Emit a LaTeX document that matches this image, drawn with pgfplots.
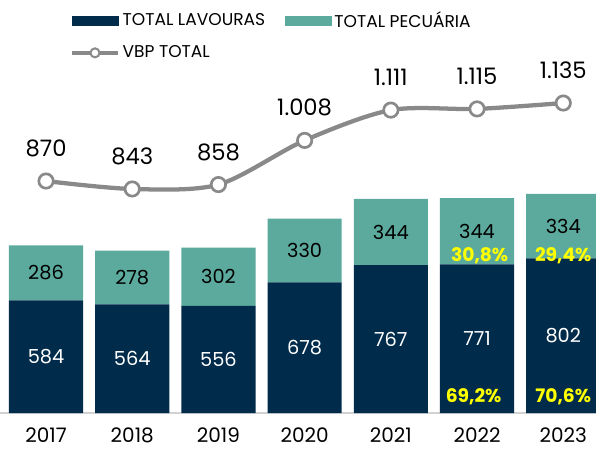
\documentclass[border=0pt]{standalone}
\usepackage{pgfplots}
\pgfplotsset{compat=1.18}
\usepackage{fontspec}
\setmainfont{Poppins}
\definecolor{navy}{RGB}{0,43,74}
\definecolor{tealp}{RGB}{91,170,157}
\definecolor{lgrey}{RGB}{137,137,137}
\definecolor{pyellow}{RGB}{255,255,0}

\pgfplotstableread{
x lav pec
0 584 286
1 564 278
2 556 302
3 678 330
4 767 344
5 771 344
6 802 334
}\bars

\pgfplotsset{
  base/.style={at={(0,0)},anchor=south west,scale only axis,
    width=447pt,height=309.75pt,xmin=-0.534,xmax=6.38},
}

\begin{document}
\begin{tikzpicture}
% bars
\begin{axis}[base,ymin=0,ymax=2142,ybar stacked,bar width=0.86,
  axis y line=none,axis x line*=bottom,
  x axis line style={draw=gray!35,line width=1.2pt,-},
  xtick={0,...,6},xticklabels={2017,2018,2019,2020,2021,2022,2023},
  major tick length=0pt,
  xticklabel style={anchor=center,yshift=-16.8pt,inner sep=0pt,
    font=\fontsize{15}{17}\selectfont}]
\addplot[fill=navy,draw=none] table[x=x,y=lav] {\bars};
\addplot[fill=tealp,draw=none] table[x=x,y=pec] {\bars};
\end{axis}
% labels inside bars
\begin{axis}[base,ymin=0,ymax=2142,hide axis,clip=false]
\addplot[only marks,mark=none,nodes near coords,point meta=explicit symbolic,
  every node near coord/.append style={anchor=center,inner sep=0pt,white,
    font=\fontsize{14.5}{16}\selectfont}]
  coordinates {(0,292)[584] (1,282)[564] (2,278)[556] (3,339)[678]
    (4,383.5)[767] (5,385.5)[771] (6,401)[802]};
\addplot[only marks,mark=none,nodes near coords,point meta=explicit symbolic,
  every node near coord/.append style={anchor=center,inner sep=0pt,black,
    font=\fontsize{14.5}{16}\selectfont}]
  coordinates {(0,727)[286] (1,703)[278] (2,707)[302] (3,843)[330]
    (4,939)[344] (5,943)[344] (6,969)[334]};
\addplot[only marks,mark=none,nodes near coords,point meta=explicit symbolic,
  every node near coord/.append style={anchor=center,inner sep=0pt,pyellow,
    font=\fontsize{14}{16}\selectfont\bfseries}]
  coordinates {(5.03,814)[30,8\%] (6.0,814)[29,4\%] (4.96,83)[69,2\%] (6.0,83)[70,6\%]};
\end{axis}
% total line
\begin{axis}[base,ymin=82,ymax=1485,hide axis,clip=false,
  legend style={at={(0.117,0.978)},anchor=north west,draw=none,fill=none,
    legend columns=2,inner sep=0pt,row sep=8pt,
    font=\fontsize{12.8}{14}\selectfont,
    /tikz/every even column/.append style={column sep=13pt}},
  legend cell align=left]
\addlegendimage{legend image code/.code={\fill[navy] (0pt,-3.4pt) rectangle (34.5pt,3.4pt);}}
\addlegendentry{TOTAL LAVOURAS}
\addlegendimage{legend image code/.code={\fill[tealp] (0pt,-3.4pt) rectangle (34.5pt,3.4pt);}}
\addlegendentry{TOTAL PECUÁRIA}
\addplot[lgrey,line width=3.2pt,smooth,mark=*,mark size=5.4pt,
  mark options={fill=white,draw=lgrey,line width=2pt},
  nodes near coords,point meta=explicit symbolic,
  every node near coord/.append style={anchor=center,inner sep=0pt,black,
    yshift=24.4pt,font=\fontsize{17}{19}\selectfont},
  legend image code/.code={
    \draw[lgrey,line width=3pt] (0pt,0pt) -- (34.5pt,0pt);
    \draw[lgrey,line width=1.5pt,fill=white] (17.25pt,0pt) circle (3.4pt);}]
  coordinates {(0,870)[870] (1,843)[843] (2,858)[858] (3,1008)[1.008]
    (4,1111)[1.111] (5,1115)[1.115] (6,1135)[1.135]};
\addlegendentry{VBP TOTAL}
\end{axis}
\pgfresetboundingbox
\path[use as bounding box] (0,-27.5pt) rectangle (447pt,309.75pt);
\end{tikzpicture}
\end{document}
